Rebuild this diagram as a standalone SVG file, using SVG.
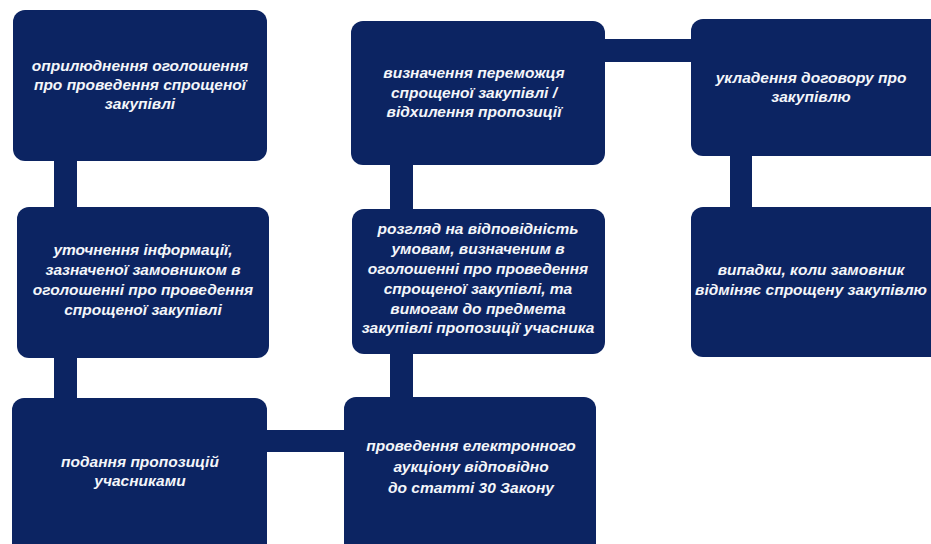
<svg xmlns="http://www.w3.org/2000/svg" width="931" height="544" viewBox="0 0 931 544">
<style>
.box{fill:#0c2462;}
.bar{fill:#0c2462;}
text{font-family:"Liberation Sans",Arial,sans-serif;font-size:15.5px;font-weight:bold;font-style:italic;fill:#f4f6fa;text-anchor:middle;dominant-baseline:middle;}
</style>
<rect width="931" height="544" fill="#ffffff"/>
<g id="connectors">
<rect class="bar" x="54" y="158" width="23" height="52"/>
<rect class="bar" x="54" y="355" width="23" height="46"/>
<rect class="bar" x="264" y="430" width="83" height="22"/>
<rect class="bar" x="390" y="352" width="23" height="48"/>
<rect class="bar" x="390" y="162" width="23" height="50"/>
<rect class="bar" x="602" y="39" width="92" height="23"/>
<rect class="bar" x="730" y="153" width="22" height="56"/>
</g>
<g id="n1">
<rect class="box" x="13" y="10" width="254" height="151" rx="12"/>
<text x="140" y="67">оприлюднення оголошення</text>
<text x="140" y="86">про проведення спрощеної</text>
<text x="140" y="105">закупівлі</text>
</g>
<g id="n2">
<rect class="box" x="17" y="207" width="252" height="151" rx="12"/>
<text x="143" y="251">уточнення інформації,</text>
<text x="143" y="271">зазначеної замовником в</text>
<text x="143" y="291">оголошенні про проведення</text>
<text x="143" y="311">спрощеної закупівлі</text>
</g>
<g id="n3">
<rect class="box" x="12" y="398" width="255" height="160" rx="12"/>
<text x="140" y="463">подання пропозицій</text>
<text x="140" y="482">учасниками</text>
</g>
<g id="n4">
<rect class="box" x="344" y="397" width="252" height="160" rx="12"/>
<text x="471" y="447">проведення електронного</text>
<text x="471" y="468">аукціону відповідно</text>
<text x="471" y="489">до статті 30 Закону</text>
</g>
<g id="n5">
<rect class="box" x="352" y="209" width="253" height="145" rx="12"/>
<text x="478" y="230">розгляд на відповідність</text>
<text x="478" y="250">умовам, визначеним в</text>
<text x="478" y="270">оголошенні про проведення</text>
<text x="478" y="290">спрощеної закупівлі, та</text>
<text x="478" y="310">вимогам до предмета</text>
<text x="478" y="329">закупівлі пропозиції учасника</text>
</g>
<g id="n6">
<rect class="box" x="351" y="21" width="254" height="144" rx="12"/>
<text x="474" y="74">визначення переможця</text>
<text x="474" y="94">спрощеної закупівлі /</text>
<text x="474" y="113">відхилення пропозиції</text>
</g>
<g id="n7">
<rect class="box" x="691" y="19" width="254" height="137" rx="12"/>
<text x="811" y="79">укладення договору про</text>
<text x="811" y="98">закупівлю</text>
</g>
<g id="n8">
<rect class="box" x="691" y="207" width="254" height="150" rx="12"/>
<text x="811" y="271">випадки, коли замовник</text>
<text x="811" y="291">відміняє спрощену закупівлю</text>
</g>
</svg>
